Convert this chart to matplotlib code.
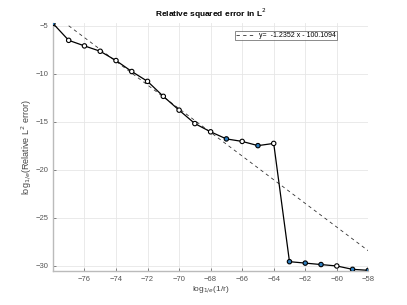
import numpy as np
import matplotlib
matplotlib.use("Agg")
import matplotlib.pyplot as plt

x = np.arange(-78, -57)
err = [-4.75, -6.52, -7.1, -7.66, -8.63, -9.77, -10.8, -12.36, -13.8, -15.2, -16.06,
       -16.8, -17.06, -17.5, -17.27, -29.6, -29.75, -29.9, -30.05, -30.4, -30.5]
filled = [True, False, False, False, False, False, False, False, False, False, False,
          True, False, True, False, True, True, True, False, True, True]
slope = -1.2352
intercept = -100.1094
fit_x = [-77, -58]

plt.rcParams['font.family'] = ['Liberation Sans', 'DejaVu Sans']
fig = plt.figure(figsize=(4.07, 3.05), dpi=100)
ax = fig.add_axes([0.13, 0.11, 0.775, 0.815])

fx = np.array(fit_x)
ax.plot(fx, slope * fx + intercept, '--', color='#333333', lw=0.6, dashes=(4, 4),
        label='y=  %.4f x - %.4f' % (slope, -intercept))
ax.plot(x, err, '-', color='black', lw=0.9, zorder=3)
fc = ['#2e7fc0' if f else 'white' for f in filled]
ax.scatter(x, err, s=10, facecolors=fc, edgecolors='black', linewidths=0.8, zorder=4)

ax.set_xlim(-78, -58)
ax.set_ylim(-30.62, -4.7)
ax.set_xticks(np.arange(-76, -57, 2))
ax.set_yticks([-30, -25, -20, -15, -10, -5])
ax.grid(True, color='#e6e6e6', lw=0.6)
ax.set_axisbelow(True)
for s in ['top', 'right']:
    ax.spines[s].set_visible(False)
for s in ['left', 'bottom']:
    ax.spines[s].set_color('#bbbbbb')
    ax.spines[s].set_linewidth(1.0)
ax.tick_params(direction='in', length=2, width=0.5, colors='#555555', labelsize=5.5, pad=3)

ax.set_title('Relative squared error in L$^2$', fontsize=6, fontweight='bold', pad=4)
ax.set_xlabel('log$_{1/e}$(1/r)', fontsize=6, color='#444444', labelpad=1)
ax.set_ylabel('log$_{1/e}$(Relative L$^2$ error)', fontsize=6.5, color='#444444', labelpad=1)
leg = ax.legend(loc='upper right', fontsize=5, frameon=True, fancybox=False,
                borderpad=0.2, handlelength=2.5, bbox_to_anchor=(0.913, 0.983))
leg.get_frame().set_edgecolor('#555555')
leg.get_frame().set_linewidth(0.6)

fig.savefig('out.png', dpi=100)
